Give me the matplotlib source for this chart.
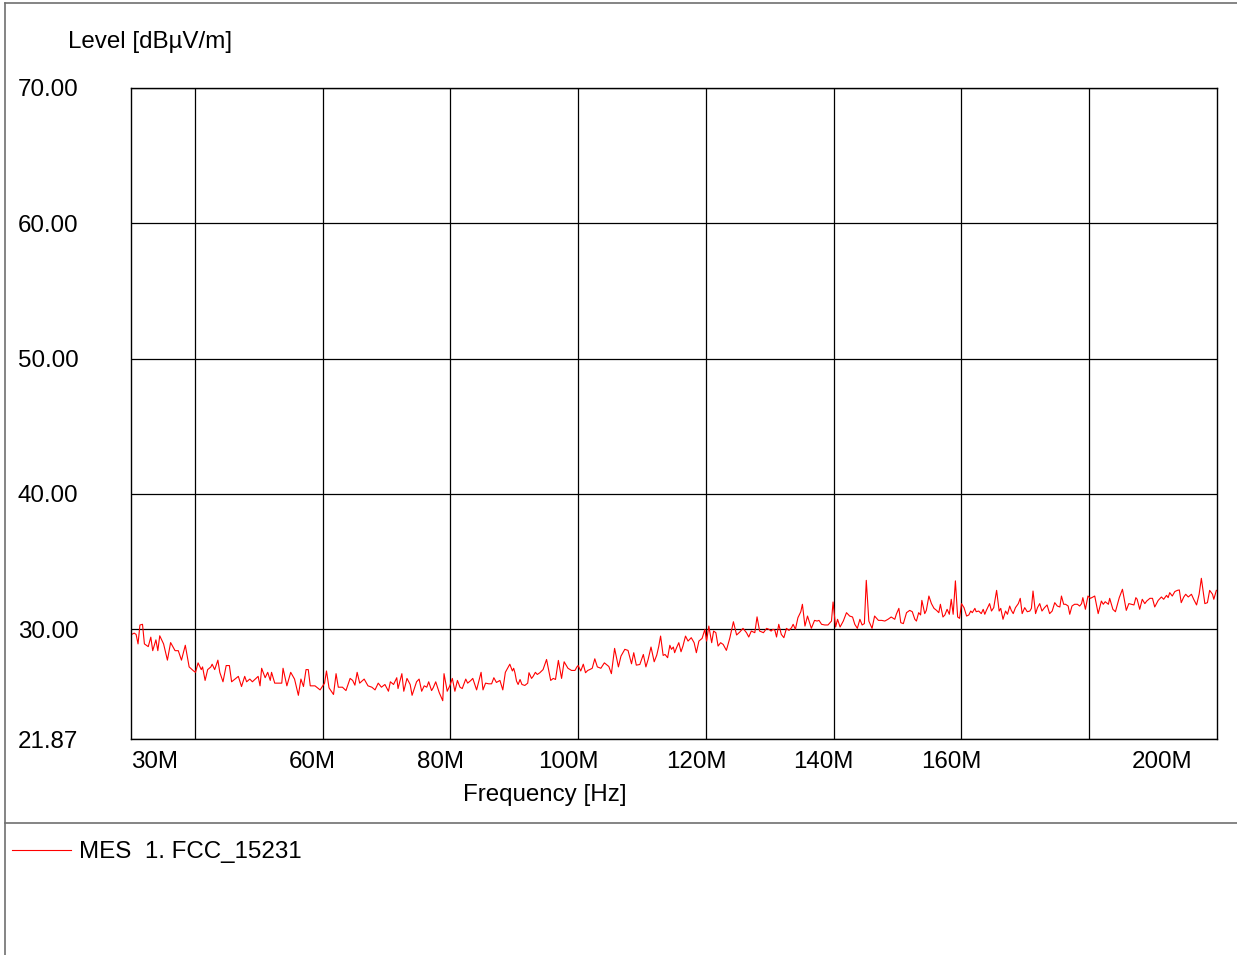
import matplotlib
matplotlib.use("Agg")
import matplotlib.pyplot as plt
from matplotlib.lines import Line2D

plt.rcParams['font.family'] = ['Liberation Sans', 'DejaVu Sans']

# ---- data ----
freq_mhz = [
    30.1, 30.5, 30.8, 31.1, 31.4, 31.8, 32.1, 32.7, 33.1, 33.4, 33.9, 34.2, 34.5, 35.1, 35.7, 36.2,
    36.9, 37.4, 37.9, 38.5, 39.1, 39.8, 40.1, 40.5, 41.0, 41.2, 41.6, 42.0, 42.5, 42.7, 43.1, 43.6,
    43.9, 44.4, 44.9, 45.4, 45.75, 46.8, 47.3, 47.8, 48.1, 48.6, 49.0, 49.9, 50.2, 50.45, 51.0, 51.4,
    51.8, 52.0, 52.5, 53.6, 53.8, 54.4, 55.0, 55.6, 56.2, 56.6, 57.0, 57.4, 57.75, 58.06, 58.8, 59.6,
    60.3,
    60.6, 61.0, 61.7, 62.1, 62.45, 63.1, 63.65, 64.3, 64.7, 65.05, 65.4, 65.8, 66.5, 67.1, 67.7, 68.2,
    68.7, 69.2, 69.75, 70.3, 70.6, 71.1, 71.6, 71.8, 72.4, 72.7, 73.2, 73.7, 74.0, 74.7, 75.1, 75.5,
    75.9, 76.3, 76.6, 77.05, 77.3, 77.7, 78.25, 78.8, 79.0, 79.5, 79.9, 80.3, 80.7, 81.1, 81.5, 81.85,
    82.4, 82.7, 83.2, 83.5, 84.1, 84.8, 85.1, 85.5, 86.0, 86.45, 86.8, 87.2, 87.75, 88.2, 88.6, 89.3,
    89.7, 89.9,
    90.1, 90.35, 90.6, 90.9, 91.2, 91.65, 92.1, 92.3, 92.7, 92.95, 93.3, 93.6, 94.0, 94.5, 95.05, 95.7,
    96.1, 96.45, 96.9, 97.4, 97.8, 98.4, 98.95, 99.5, 99.8, 100.0, 100.4, 100.8, 101.15, 101.5, 101.8,
    102.2, 102.6, 103.0, 103.55, 104.1, 104.4, 104.8, 105.2, 105.7, 106.3, 106.7, 107.3, 107.8, 108.35,
    108.7, 109.1, 109.65, 110.2, 110.6, 110.95, 111.4, 111.9, 112.3, 112.6, 112.9, 113.3, 113.6, 114.0,
    114.35, 114.6, 114.9, 115.1, 115.4, 115.75, 116.1, 116.4, 116.8, 117.2, 117.7, 118.15, 118.5, 118.9,
    119.4,
    119.83, 120.1, 120.45, 120.9, 121.2, 121.55, 121.9, 122.3, 122.7, 123.2, 123.75, 124.3, 124.8,
    125.3, 125.8, 126.35, 126.7, 127.1, 127.65, 128.0, 128.4, 129.0, 129.5, 129.85, 130.2, 130.5,
    130.8, 131.05, 131.4, 131.8, 132.2, 132.6, 133.0, 133.4, 133.65, 134.0, 134.4, 134.85, 135.1,
    135.5, 135.9, 136.5, 137.0, 137.4, 137.7, 138.1, 138.6, 139.1, 139.65, 139.9, 140.3, 140.6, 141.0,
    141.5, 142.0, 142.5, 142.95, 143.3, 143.7, 144.1, 144.45, 144.8, 145.1, 145.5, 146.0, 146.4, 147.0,
    147.5, 148.0, 148.5, 149.0,
    149.56, 149.8, 150.2, 150.5, 150.9, 151.4, 151.9, 152.3, 152.7, 152.95, 153.3, 153.6, 153.8,
    154.25, 154.5, 154.9, 155.3, 155.7, 156.1, 156.45, 156.7, 157.1, 157.4, 157.75, 158.1, 158.4,
    158.7, 159.05, 159.4, 159.7, 160.0, 160.4, 160.8, 161.15, 161.45, 161.7, 162.1, 162.3, 162.7,
    163.1, 163.4, 163.65, 163.9, 164.4, 164.7, 165.05, 165.5, 165.9, 166.15, 166.5, 166.9, 167.2,
    167.55, 167.8, 168.1, 168.45, 168.9, 169.2, 169.5, 169.9, 170.3, 170.7, 170.95, 171.2, 171.6,
    171.9, 172.25, 172.6, 173.0, 173.4, 173.8, 174.2, 174.6, 175.0, 175.4, 175.65, 176.0, 176.3,
    176.7, 176.95, 177.3, 177.7, 178.15, 178.5, 178.8, 179.0, 179.4, 179.8, 180.2, 180.6,
    180.86, 181.4, 181.9, 182.2, 182.5, 183.0, 183.2, 183.7, 184.1, 184.7, 185.2, 185.8, 186.2,
    186.6, 187.0, 187.3, 187.5, 187.9, 188.3, 188.7, 189.0, 189.5, 189.9, 190.25, 190.8, 191.3,
    191.65, 192.1, 192.35, 192.6, 193.0, 193.4, 193.8, 194.1, 194.4, 194.8, 195.1, 195.5, 196.0,
    196.35, 196.8, 197.2, 197.55, 198.1, 198.5, 198.85, 199.3, 199.5, 199.9,
]

level_dbuv = [
    29.6, 29.7, 29.6, 28.9, 30.3, 30.35, 28.9, 28.7, 29.4, 28.4, 29.2, 28.4, 29.5, 28.9, 27.7, 29.0,
    28.4, 28.4, 27.7, 28.8, 27.2, 26.9, 26.8, 27.5, 27.0, 27.2, 26.2, 27.0, 27.2, 27.4, 27.0, 27.7,
    26.8, 26.1, 27.3, 27.3, 26.1, 26.5, 25.75, 26.5, 26.1, 26.3, 26.1, 26.5, 25.8, 27.1, 26.4, 26.8,
    26.2, 26.8, 26.0, 26.0, 27.1, 25.8, 26.8, 26.3, 25.1, 26.3, 25.75, 27.0, 27.0, 25.8, 25.8, 25.5,
    26.0,
    26.9, 25.65, 25.16, 26.7, 25.7, 25.7, 25.45, 26.35, 26.2, 25.85, 26.8, 26.0, 26.3, 25.8, 25.7, 25.5,
    26.0, 25.7, 25.9, 25.4, 26.1, 25.9, 26.4, 25.6, 26.7, 25.4, 26.35, 25.9, 25.1, 26.1, 26.3, 25.4,
    25.8, 25.7, 26.1, 25.45, 25.65, 26.1, 25.3, 24.7, 26.7, 25.4, 25.8, 26.35, 25.4, 26.2, 25.7, 25.6,
    26.3, 26.0, 26.2, 26.35, 25.5, 26.8, 25.5, 26.0, 25.95, 25.95, 26.4, 26.05, 26.2, 25.5, 26.8, 27.4,
    26.9, 27.1,
    26.77, 26.15, 25.9, 26.27, 25.9, 25.83, 26.0, 26.77, 26.35, 26.5, 26.8, 26.64, 26.77, 27.0, 27.75, 26.2,
    26.35, 26.27, 27.68, 26.35, 27.58, 27.1, 26.94, 26.94, 27.2, 27.3, 26.9, 27.4, 26.77, 26.94, 27.0,
    27.1, 27.8, 27.2, 27.1, 27.5, 27.38, 27.23, 26.7, 28.57, 27.2, 28.0, 28.5, 28.42, 27.43,
    28.25, 27.33, 27.38, 28.12, 27.2, 27.75, 28.67, 27.58, 28.07, 28.69, 29.48, 28.05, 28.12, 27.88,
    28.8, 28.5, 28.67, 28.25, 28.62, 28.99, 28.32, 28.74, 29.48, 29.11, 29.36, 28.99, 28.25, 29.11,
    29.31,
    29.97, 29.11, 30.22, 28.99, 29.85, 29.73, 28.74, 28.99, 28.86, 28.42, 29.36, 30.54, 29.56,
    29.78, 30.05, 29.73, 29.41, 29.85, 29.73, 30.9, 29.85, 29.73, 30.05, 29.98, 29.85, 29.98,
    29.9, 29.41, 30.35, 29.6, 29.36, 30.05, 29.9, 30.1, 30.35, 29.98, 30.84, 31.28, 31.83,
    30.22, 30.96, 30.05, 30.64, 30.59, 30.64, 30.35, 30.3, 30.3, 30.59, 32.0, 30.15, 30.72, 30.15,
    30.59, 31.21, 30.96, 30.89, 30.35, 30.05, 30.72, 30.3, 30.4, 33.6, 30.59, 30.05, 30.96, 30.64,
    30.64, 30.59, 30.72, 30.89,
    30.72, 31.09, 31.53, 30.47, 30.4, 31.21, 31.38, 31.28, 30.72, 30.59, 31.21, 31.04, 32.12,
    31.14, 31.38, 32.44, 31.88, 31.53, 31.38, 31.21, 31.83, 30.89, 31.04, 31.46, 31.09, 32.2,
    31.09, 33.56, 30.89, 30.79, 31.88, 31.58, 30.96, 31.04, 31.33, 31.21, 31.53, 31.28, 31.33,
    31.14, 31.46, 31.09, 31.38, 31.88, 31.33, 31.58, 32.86, 31.33, 31.53, 30.72, 31.33, 31.09,
    31.7, 31.38, 31.14, 31.58, 31.88, 32.27, 31.14, 31.58, 31.28, 31.33, 31.53, 32.81, 31.14,
    31.58, 31.88, 31.33, 31.58, 31.78, 31.14, 31.33, 31.95, 31.7, 31.63, 32.44, 31.83, 31.83,
    31.7, 31.09, 31.7, 31.83, 31.83, 31.7, 31.88, 32.32, 31.46, 32.44, 32.27, 32.37,
    32.44, 31.14, 32.07, 31.83, 32.02, 31.83, 32.27, 31.46, 31.28, 32.32, 32.94, 31.38, 31.88,
    31.83, 31.78, 32.32, 32.2, 31.46, 32.2, 31.88, 32.07, 32.27, 32.27, 31.63, 32.12, 32.37,
    32.2, 32.49, 32.32, 32.69, 32.44, 32.77, 32.86, 32.89, 31.95, 32.37, 32.57, 32.37, 32.57,
    32.2, 31.78, 32.57, 33.75, 31.88, 31.95, 32.86, 32.57, 32.2, 32.86,
]

y_ticks = [21.87, 30.0, 40.0, 50.0, 60.0, 70.0]
x_grid = [40, 60, 80, 100, 120, 140, 160, 180]
x_label_pos = [30, 60, 80, 100, 120, 140, 160, 200]
x_label_txt = ["30M", "60M", "80M", "100M", "120M", "140M", "160M", "200M"]
series_name = "MES  1. FCC_15231"

# ---- figure ----
W, H = 1237, 955
FS = 17.4
fig = plt.figure(figsize=(W / 100, H / 100), dpi=100)

def fx(x):
    return x / W

def fy(y):
    return 1 - y / H

ax = fig.add_axes([fx(131), fy(739), fx(1217) - fx(131), fy(88) - fy(739)])
line, = ax.plot(freq_mhz, level_dbuv, color='#ff0000', lw=0.8)
ax.set_xlim(30, 200)
ax.set_ylim(21.87, 70)

ax.set_yticks(y_ticks)
ax.set_yticklabels([f"{v:.2f}" for v in y_ticks])
ax.tick_params(axis='y', length=0, pad=38, labelsize=FS)
ax.set_xticks(x_grid)
ax.set_xticklabels([])
ax.tick_params(axis='x', length=0)
ax.grid(True, color='black', lw=0.9)
for s in ax.spines.values():
    s.set_color('black')
    s.set_linewidth(1.0)

# x labels (offsets in pixels relative to the tick value)
offsets = {"30M": 0, "200M": -54.5}
for v, t in zip(x_label_pos, x_label_txt):
    off = offsets.get(t, -10)
    ha = 'left' if t == "30M" else 'center'
    ax.annotate(t, xy=(v, 0), xycoords=('data', 'axes fraction'),
                xytext=(off, -22.5), textcoords='offset pixels',
                ha=ha, va='center', fontsize=FS, annotation_clip=False)

fig.text(fx(68), fy(42), "Level [dBµV/m]", ha='left', va='center', fontsize=FS)
fig.text(fx(545), fy(795), "Frequency [Hz]", ha='center', va='center', fontsize=FS)

# legend
fig.legend(handles=[line], labels=[series_name], loc='center left',
           bbox_to_anchor=(fx(12), fy(852)), frameon=False, fontsize=FS,
           handlelength=2.45, handletextpad=0.33, borderaxespad=0, borderpad=0)

# outer frame (no right border in the reference)
frame_col = '#707070'
fig.add_artist(Line2D([fx(5), fx(5)], [fy(3), fy(955)], color=frame_col, lw=1.2))
fig.add_artist(Line2D([fx(5), fx(1237)], [fy(3.5), fy(3.5)], color=frame_col, lw=1.2))
fig.add_artist(Line2D([fx(5), fx(1237)], [fy(823), fy(823)], color=frame_col, lw=1.2))

fig.savefig("out.png", dpi=100)
